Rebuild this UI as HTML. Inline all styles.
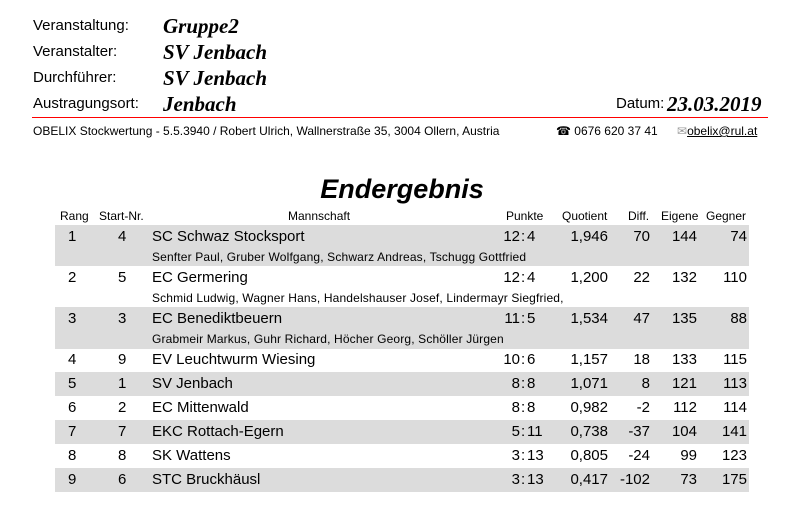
<!DOCTYPE html>
<html><head><meta charset="utf-8"><style>
body{margin:0;width:800px;height:521px;background:#fff;position:relative;font-family:"Liberation Sans",sans-serif;color:#000;overflow:hidden}
.a{position:absolute;white-space:nowrap}
.l{font-size:15px}
.v{font-family:"Liberation Serif",serif;font-weight:bold;font-style:italic;font-size:21px}
.g{position:absolute;left:55px;width:694px;background:#dcdcdc}
.r{position:absolute;left:0;width:800px;height:24px;font-size:15px}
.r span{position:absolute;top:4px;white-space:nowrap}
.m{position:absolute;left:152px;font-size:12px;letter-spacing:0.15px;white-space:nowrap}
.h{font-size:12px;position:absolute;top:209px}
</style></head><body>
<div class="a l" style="left:33px;top:17px">Veranstaltung:</div>
<div class="a l" style="left:33px;top:43px">Veranstalter:</div>
<div class="a l" style="left:33px;top:69px">Durchführer:</div>
<div class="a l" style="left:33px;top:95px">Austragungsort:</div>
<div class="a v" style="left:163px;top:14px">Gruppe2</div>
<div class="a v" style="left:163px;top:40px">SV Jenbach</div>
<div class="a v" style="left:163px;top:66px">SV Jenbach</div>
<div class="a v" style="left:163px;top:92px">Jenbach</div>
<div class="a l" style="left:616px;top:95px">Datum:</div>
<div class="a v" style="left:667px;top:92px">23.03.2019</div>
<div style="position:absolute;left:32px;top:117px;width:736px;height:1px;background:#f00"></div>
<div class="a" style="left:33px;top:124px;font-size:12px">OBELIX Stockwertung - 5.5.3940 / Robert Ulrich, Wallnerstraße 35, 3004 Ollern, Austria</div>
<div class="a" style="left:556px;top:124px;font-size:12px">☎ 0676 620 37 41</div>
<div class="a" style="left:677px;top:124px;font-size:12px;color:#999">✉<span style="color:#000;text-decoration:underline">obelix@rul.at</span></div>
<div class="a" style="left:0;width:804px;text-align:center;top:174px;font-size:27px;font-weight:bold;font-style:italic">Endergebnis</div>
<span class="h" style="left:60px">Rang</span><span class="h" style="left:99px">Start-Nr.</span><span class="h" style="left:288px">Mannschaft</span><span class="h" style="left:506px">Punkte</span><span class="h" style="left:562px">Quotient</span><span class="h" style="left:628px">Diff.</span><span class="h" style="left:661px">Eigene</span><span class="h" style="left:706px">Gegner</span>
<div class="g" style="top:225px;height:41px"></div>
<div class="g" style="top:307px;height:42px"></div>
<div class="g" style="top:372px;height:24px"></div>
<div class="g" style="top:420px;height:24px"></div>
<div class="g" style="top:468px;height:24px"></div>
<div id="rows"></div>
<script>
var d=[[1,4,"SC Schwaz Stocksport","12:4","1,946",70,144,74,"Senfter Paul, Gruber Wolfgang, Schwarz Andreas, Tschugg Gottfried",226],
[2,5,"EC Germering","12:4","1,200",22,132,110,"Schmid Ludwig, Wagner Hans, Handelshauser Josef, Lindermayr Siegfried,",267],
[3,3,"EC Benediktbeuern","11:5","1,534",47,135,88,"Grabmeir Markus, Guhr Richard, Höcher Georg, Schöller Jürgen",308],
[4,9,"EV Leuchtwurm Wiesing","10:6","1,157",18,133,115,"",349],
[5,1,"SV Jenbach","8:8","1,071",8,121,113,"",373],
[6,2,"EC Mittenwald","8:8","0,982",-2,112,114,"",397],
[7,7,"EKC Rottach-Egern","5:11","0,738",-37,104,141,"",421],
[8,8,"SK Wattens","3:13","0,805",-24,99,123,"",445],
[9,6,"STC Bruckhäusl","3:13","0,417",-102,73,175,"",469]];
var h="";
d.forEach(function(r){var p=r[3].split(":");
h+='<div class="r" style="top:'+(r[9]-2)+'px"><span style="left:68px">'+r[0]+'</span><span style="left:118px">'+r[1]+'</span><span style="left:152px">'+r[2]+'</span>'+
'<span style="right:'+(800-520)+'px">'+p[0]+'</span><span style="left:521px">:</span><span style="left:527px">'+p[1]+'</span>'+
'<span style="right:'+(800-608)+'px">'+r[4]+'</span><span style="right:'+(800-650)+'px">'+r[5]+'</span><span style="right:'+(800-697)+'px">'+r[6]+'</span><span style="right:'+(800-747)+'px">'+r[7]+'</span></div>';
if(r[8])h+='<div class="m" style="top:'+(r[9]+24)+'px">'+r[8]+'</div>';});
document.getElementById("rows").innerHTML=h;
</script>
</body></html>
